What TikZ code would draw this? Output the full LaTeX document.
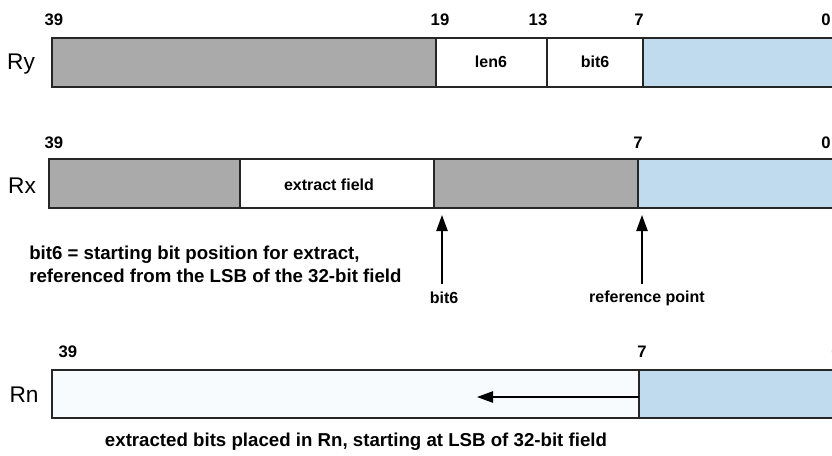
\documentclass[tikz,border=0pt]{standalone}
\usepackage{fontspec}
\setmainfont{Liberation Sans}
\usetikzlibrary{arrows.meta}

\definecolor{regGray}{HTML}{AAAAAA}
\definecolor{regBlue}{HTML}{C0DAEE}
\definecolor{regPale}{HTML}{F8FBFE}

\tikzset{
  cell/.style={draw=black!85, line width=1.2pt},
  bitno/.style={font=\bfseries\fontsize{12.5}{14}\selectfont},
  field/.style={font=\bfseries\fontsize{12}{14}\selectfont},
  regname/.style={font=\fontsize{17}{19}\selectfont},
  note/.style={font=\bfseries\fontsize{14}{17}\selectfont},
}

\begin{document}
\begin{tikzpicture}[x=0.75pt, y=-0.75pt, >={Triangle[length=12pt,width=8.5pt]}]
  \clip (0,0) rectangle (832,455);

  % Ry: control register
  \draw[cell, fill=regGray] (52,38) rectangle (436,87);
  \draw[cell, fill=white]   (436,38) rectangle (547,87);
  \draw[cell, fill=white]   (547,38) rectangle (643,87);
  \draw[cell, fill=regBlue] (643,38) rectangle (850,87);
  \node[regname] (Ry) at (21,64) {Ry};
  \node[field] (len) at (491,62) {len6};
  \node[field] (pos) at (595,62) {bit6};
  \node[bitno] (y39) at (54,20) {39};
  \node[bitno] (y19) at (440,20) {19};
  \node[bitno] (y13) at (538,20) {13};
  \node[bitno] (y7)  at (639,20) {7};
  \node[bitno] (y0)  at (826,20) {0};

  % Rx: source register
  \draw[cell, fill=regGray] (49,159) rectangle (240,208);
  \draw[cell, fill=white]   (240,159) rectangle (434,208);
  \draw[cell, fill=regGray] (434,159) rectangle (638,208);
  \draw[cell, fill=regBlue] (638,159) rectangle (850,208);
  \node[regname] (Rx) at (22,186) {Rx};
  \node[field] (xf) at (329,185) {extract field};
  \node[bitno] (x39) at (54,143) {39};
  \node[bitno] (x7)  at (638,143) {7};
  \node[bitno] (x0)  at (826,143) {0};

  \coordinate (startTip) at (442,215);
  \coordinate (refTip)   at (642,215);
  \node[field] (startLbl) at (444,298) {bit6};
  \node[field] (refLbl)   at (647,298) {reference point};
  \draw[->, line width=1.1pt] (442,284) -- (startTip);
  \draw[->, line width=1.1pt] (642,284) -- (refTip);

  \node[note, anchor=north west, align=left, inner sep=0pt] (expl) at (29,246)
    {bit6 = starting bit position for extract,\\referenced from the LSB of the 32-bit field};

  % Rn: destination register
  \draw[cell, fill=regPale] (52,370) rectangle (639,418);
  \draw[cell, fill=regBlue] (639,370) rectangle (850,418);
  \node[regname] (Rn) at (24,395) {Rn};
  \node[bitno] (n39) at (68,352) {39};
  \node[bitno] (n7)  at (642,352) {7};
  \node[bitno] (n0)  at (836,352) {0};
  \coordinate (fillFrom) at (639,397);
  \coordinate (fillTo)   at (477,397);
  \draw[->, line width=1.1pt] (fillFrom) -- (fillTo);

  \node[note] (summary) at (356,442)
    {extracted bits placed in Rn, starting at LSB of 32-bit field};
\end{tikzpicture}
\end{document}
